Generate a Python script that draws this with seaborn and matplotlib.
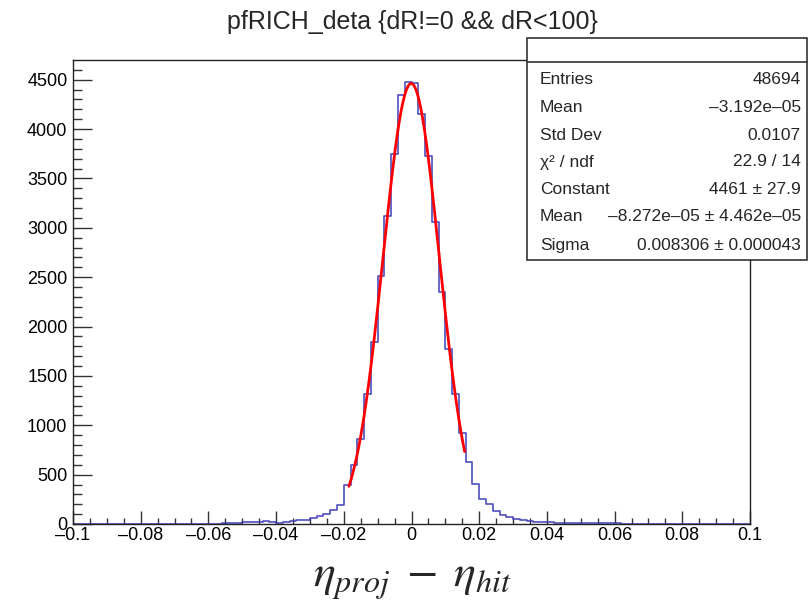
import numpy as np
import pandas as pd
import matplotlib
matplotlib.use("Agg")
import matplotlib.pyplot as plt
import seaborn as sns
from matplotlib.ticker import MultipleLocator, FixedLocator

# ---- data ----
bin_lo, bin_hi, n_bins = -0.1, 0.1, 100
counts = [
    0, 0, 1, 0, 1, 1, 0, 1, 2, 1,
    1, 2, 1, 2, 3, 2, 2, 3, 3, 4,
    4, 5, 6, 8, 15, 17, 17, 18, 27, 18,
    14, 21, 32, 43, 45, 58, 78, 102, 145, 196,
    390, 596, 858, 1320, 1848, 2515, 3120, 3747, 4343, 4475,
    4470, 4148, 3727, 3063, 2346, 1775, 1320, 926, 623, 404,
    258, 205, 128, 90, 66, 47, 40, 33, 25, 23,
    20, 14, 13, 12, 11, 10, 8, 7, 7, 6,
    6, 5, 5, 4, 4, 3, 3, 3, 2, 2,
    2, 2, 1, 1, 1, 1, 0, 1, 0, 0,
]
# Gaussian fit parameters shown in the stats box
fit_const, fit_mean, fit_sigma = 4461.0, -8.272e-05, 0.008306
fit_range = (-0.0185, 0.0157)

title = "pfRICH_deta {dR!=0 && dR<100}"
stat_labels = ["Entries", "Mean", "Std Dev", "\u03c7\u00b2 / ndf", "Constant", "Mean", "Sigma"]
stat_values = ["48694", "\u20133.192e\u201305", "0.0107", "22.9 / 14", "4461 \u00b1 27.9",
               "\u20138.272e\u201305 \u00b1 4.462e\u201305", "0.008306 \u00b1 0.000043"]
x_ticks = [-0.1, -0.08, -0.06, -0.04, -0.02, 0, 0.02, 0.04, 0.06, 0.08, 0.1]
x_tick_labels = ["\u20130.1", "\u20130.08", "\u20130.06", "\u20130.04", "\u20130.02", "0",
                 "0.02", "0.04", "0.06", "0.08", "0.1"]
y_ticks = [0, 500, 1000, 1500, 2000, 2500, 3000, 3500, 4000, 4500]

# ---- style ----
sns.set_style("white")
plt.rcParams["font.family"] = ["Liberation Sans", "DejaVu Sans"]
plt.rcParams["mathtext.fontset"] = "stix"

fig = plt.figure(figsize=(8.08, 6.06), dpi=100)
W, H = 808, 606
ax = fig.add_axes([73 / W, 82 / H, (750 - 73) / W, (524 - 60) / H])

edges = np.linspace(bin_lo, bin_hi, n_bins + 1)
centers = 0.5 * (edges[:-1] + edges[1:])
hist_df = pd.DataFrame({"x": centers, "w": counts})
sns.histplot(data=hist_df, x="x", weights="w", bins=n_bins, binrange=(bin_lo, bin_hi),
             element="step", fill=False, color="#3a3ab8", linewidth=1.2, alpha=0.9, ax=ax)

xf = np.linspace(fit_range[0], fit_range[1], 300)
yf = fit_const * np.exp(-0.5 * ((xf - fit_mean) / fit_sigma) ** 2)
sns.lineplot(x=xf, y=yf, color="#ff0000", linewidth=2.0, ax=ax)

ax.set_xlim(bin_lo, bin_hi)
ax.set_ylim(0, 1.05 * max(counts))
ax.set_xlabel("")
ax.set_ylabel("")
ax.xaxis.set_major_locator(FixedLocator(x_ticks))
ax.set_xticklabels(x_tick_labels)
ax.xaxis.set_minor_locator(MultipleLocator(0.005))
ax.yaxis.set_major_locator(FixedLocator(y_ticks))
ax.set_yticklabels([str(v) for v in y_ticks])
ax.yaxis.set_minor_locator(MultipleLocator(100))
ax.tick_params(axis="both", which="both", direction="in", bottom=True, left=True,
               top=False, right=False, colors="#333333", labelcolor="black",
               labelsize=13, width=1.0)
ax.tick_params(axis="x", which="major", length=9.5, pad=2)
ax.tick_params(axis="x", which="minor", length=4.5)
ax.tick_params(axis="y", which="major", length=13.5, pad=4)
ax.tick_params(axis="y", which="minor", length=6.5)
for s in ax.spines.values():
    s.set_color("#222222")
    s.set_linewidth(1.0)
    s.set_visible(True)

# title
fig.text(412 / W, 1 - 22 / H, title, ha="center", va="center", fontsize=18)

# x label (drawn as figure text so it sits like the reference)
fig.text(412 / W, 1 - 580 / H, r"$\eta_{proj}\;-\;\eta_{hit}$", ha="center", va="center",
         fontsize=33)

# stats box
bx0, bx1, by0, by1 = 527 / W, 807 / W, 1 - 260 / H, 1 - 38 / H
box = plt.Rectangle((bx0, by0), bx1 - bx0, by1 - by0, transform=fig.transFigure,
                    facecolor="white", edgecolor="#333333", linewidth=1.2, zorder=5)
fig.add_artist(box)
sep = plt.Line2D([bx0, bx1], [1 - 62 / H, 1 - 62 / H], transform=fig.transFigure,
                 color="#333333", linewidth=1.2, zorder=6)
fig.add_artist(sep)
rows_y = [80, 107, 135, 162, 190, 217, 245]
for lab, val, yy in zip(stat_labels, stat_values, rows_y):
    fig.text(540 / W, 1 - yy / H, lab, ha="left", va="center", fontsize=12.5, zorder=7)
    fig.text(801 / W, 1 - yy / H, val, ha="right", va="center", fontsize=12.5, zorder=7)

fig.savefig("out.png", dpi=100)
